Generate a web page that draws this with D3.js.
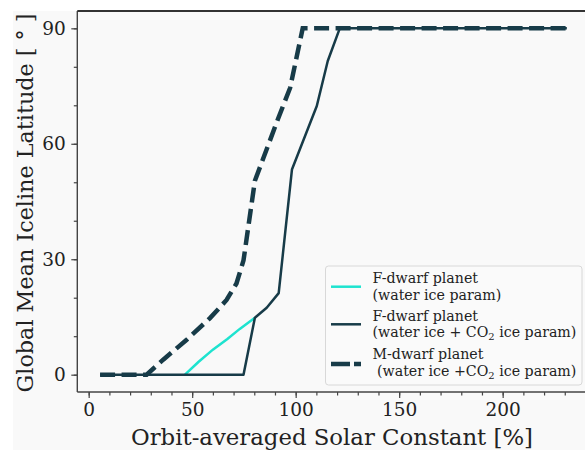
<!DOCTYPE html>
<meta charset="utf-8">
<style>
body { margin: 0; background: #fff; }
svg { font-family: "DejaVu Serif", serif; }
.axis path, .axis line { stroke: #444; }
.axis text { font-family: "DejaVu Serif", serif; font-size: 18.5px; fill: #222; }
.legend text { font-size: 14.2px; fill: #222; white-space: pre; }
</style>
<body>
<script src="https://cdn.jsdelivr.net/npm/d3@7"></script>
<script>
// solar constant [%] vs iceline latitude [deg]
var fWaterX = [46.5, 53, 60, 67, 73, 80.3];
var fWaterY = [0, 3.3, 6.5, 9.3, 11.9, 14.8];

var fCo2X = [5.5, 74.8, 80.3, 86, 91.8, 98.2, 110.2, 115.5, 121.3, 231];
var fCo2Y = [0, 0, 14.8, 17.4, 21.2, 53.3, 69.8, 81.5, 90, 90];

var mCo2X = [5.5, 28, 36, 47.2, 58.6, 66.6, 71.4, 74.8, 80.3, 91.5, 97.3, 103.4, 231];
var mCo2Y = [0, 0, 3.9, 9, 14.7, 19.4, 23.7, 29.7, 50.4, 66.5, 74.5, 90, 90];

var xTicks = [0, 50, 100, 150, 200];
var yTicks = [0, 30, 60, 90];

var W = 585, H = 450;
var dark = "#173b48", cyan = "#1ee3cf";

var svg = d3.select("body").append("svg")
    .attr("width", W)
    .attr("height", H);

svg.append("rect")
    .attr("x", 13).attr("y", 11)
    .attr("width", W - 13).attr("height", H - 11)
    .attr("fill", "#f9f9f9");

var x = d3.scaleLinear().domain([-5.5, 242]).range([77.3, 589.6]);
var y = d3.scaleLinear().domain([-4.5, 94.5]).range([392, 11]);

// axes: minor ticks every 10, labelled majors on top
svg.append("g")
    .attr("class", "axis")
    .attr("transform", "translate(0,392)")
    .call(d3.axisBottom(x).tickValues(d3.range(0, 241, 10)).tickSize(3.5).tickFormat(""))
    .select(".domain").remove();
svg.append("g")
    .attr("class", "axis")
    .attr("transform", "translate(0,392)")
    .call(d3.axisBottom(x).tickValues(xTicks).tickSize(6).tickPadding(5))
    .select(".domain").remove();

svg.append("g")
    .attr("class", "axis")
    .attr("transform", "translate(77.3,0)")
    .call(d3.axisLeft(y).tickValues(d3.range(0, 91, 10)).tickSize(3.5).tickFormat(""))
    .select(".domain").remove();
svg.append("g")
    .attr("class", "axis")
    .attr("transform", "translate(77.3,0)")
    .call(d3.axisLeft(y).tickValues(yTicks).tickSize(6).tickPadding(5.5))
    .select(".domain").remove();

svg.selectAll(".axis line").attr("stroke-width", 1.2);

// spines
svg.append("line").attr("x1", 77.3).attr("x2", 77.3).attr("y1", 11).attr("y2", 392)
    .attr("stroke", "#444").attr("stroke-width", 1.4);
svg.append("line").attr("x1", 77.3).attr("x2", W).attr("y1", 392).attr("y2", 392)
    .attr("stroke", "#444").attr("stroke-width", 1.4);
svg.append("line").attr("x1", 77.3).attr("x2", W).attr("y1", 11).attr("y2", 11)
    .attr("stroke", "#333").attr("stroke-width", 2);

var line = d3.line()
    .x(function(d) { return x(d[0]); })
    .y(function(d) { return y(d[1]); });

function pts(xs, ys) { return xs.map(function(v, i) { return [v, ys[i]]; }); }

svg.append("path")
    .attr("d", line(pts(fWaterX, fWaterY)))
    .attr("fill", "none").attr("stroke", cyan).attr("stroke-width", 2.5);

svg.append("path")
    .attr("d", line(pts(fCo2X, fCo2Y)))
    .attr("fill", "none").attr("stroke", dark).attr("stroke-width", 2.5)
    .attr("stroke-linejoin", "round");

svg.append("path")
    .attr("d", line(pts(mCo2X, mCo2Y)))
    .attr("fill", "none").attr("stroke", dark).attr("stroke-width", 4.5)
    .attr("stroke-dasharray", "15,6.5");

// axis titles
svg.append("text")
    .attr("x", 332).attr("y", 445)
    .attr("text-anchor", "middle")
    .attr("font-size", 22.8).attr("fill", "#222")
    .text("Orbit-averaged Solar Constant [%]");

svg.append("text")
    .attr("transform", "translate(33,203) rotate(-90)")
    .attr("text-anchor", "middle")
    .attr("font-size", 22.3).attr("fill", "#222")
    .text("Global Mean Iceline Latitude [ \u00b0 ]");

// legend
var lg = svg.append("g").attr("class", "legend");
lg.append("rect")
    .attr("x", 325.5).attr("y", 266).attr("width", 256.5).attr("height", 119)
    .attr("rx", 3).attr("fill", "#fafafa").attr("stroke", "#d8d8d8");

var entries = [
  { l1: "F-dwarf planet", l2: ["(water ice param)"], color: cyan, w: 2.5, dash: null, y: 278, hy: 286.7 },
  { l1: "F-dwarf planet", l2: ["(water ice + CO", "2", " ice param)"], color: dark, w: 2.5, dash: null, y: 315.5, hy: 324.3 },
  { l1: "M-dwarf planet", l2: [" (water ice +CO", "2", " ice param)"], color: dark, w: 4.5, dash: "19,4", y: 354, hy: 364 }
];

entries.forEach(function(e) {
  lg.append("line")
      .attr("x1", 331).attr("x2", 361)
      .attr("y1", e.hy).attr("y2", e.hy)
      .attr("stroke", e.color).attr("stroke-width", e.w)
      .attr("stroke-dasharray", e.dash);
  lg.append("text").attr("x", 372.5).attr("y", e.y + 5).text(e.l1);
  var t = lg.append("text").attr("x", 372.5).attr("y", e.y + 21.5);
  e.l2.forEach(function(s, i) {
    if (i === 1) {
      t.append("tspan").attr("font-size", 10).attr("dy", 3).text(s);
    } else if (i === 2) {
      t.append("tspan").attr("dy", -3).text(s);
    } else {
      t.append("tspan").text(s);
    }
  });
});
</script>
</body>
